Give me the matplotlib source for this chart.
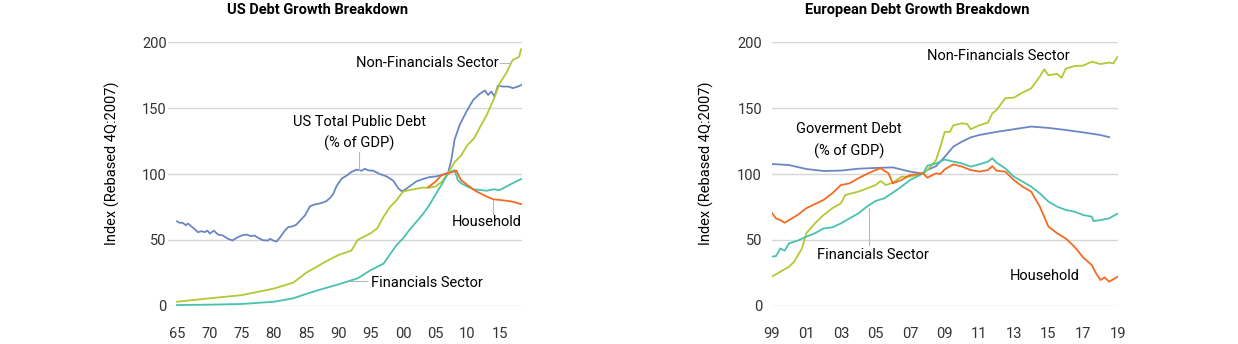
import matplotlib
matplotlib.use("Agg")
import matplotlib.pyplot as plt

plt.rcParams['font.family'] = ['Roboto', 'DejaVu Sans']

BLUE = '#6b87c2'
GREEN = '#b4c833'
TEAL = '#48c2ae'
ORANGE = '#f26b21'
GRID = '#d6d6d6'
LEADER = '#b8b8b8'

# ---- US data (index, rebased 4Q:2007) ----
us_pub_years = [1965, 1965.4, 1965.9, 1966.35, 1966.7, 1967.5, 1968.25, 1968.8, 1969.3, 1969.7,
                1970.1, 1970.7, 1971.35, 1972.1, 1972.9, 1973.6, 1974.2, 1975.0, 1975.75, 1976.5,
                1977.0, 1977.55, 1978.3, 1979.1, 1979.4, 1979.9, 1980.4, 1980.9, 1981.7, 1982.2,
                1983.0, 1983.5, 1984.2, 1984.8, 1985.6, 1986.3, 1987.4, 1988.1, 1988.7, 1989.2,
                1989.7, 1990.5, 1991.25, 1992.0, 1992.8, 1993.6, 1994.1, 1994.6, 1995.4, 1996.4,
                1997.45, 1998.5, 1999.25, 1999.8, 2000.3, 2001.05, 2002.1, 2003.1, 2004.15,
                2005.2, 2006.2, 2007.0, 2007.5, 2008.0, 2008.8, 2009.85, 2010.9, 2011.9, 2012.7,
                2013.2, 2013.7, 2014.2, 2014.7, 2015.5, 2016.3, 2017.05, 2017.8, 2018.4]
us_pub = [64.1, 62.9, 62.9, 61.1, 62.4, 59.1, 55.8, 56.6, 55.8, 57,
          54.8, 57, 54, 53.3, 50.8, 49.5, 51.5, 53.3, 54, 52.8,
          53.3, 51.5, 49.7, 49.5, 50.8, 49.5, 48.7, 51.5, 57, 59.6,
          60.4, 61.6, 65.4, 68.4, 75.5, 76.8, 78, 79.3, 81.8, 84.8,
          90.7, 96.5, 98.7, 101.5, 103.3, 102.5, 104, 102.8, 102.5, 100,
          98.2, 95, 89.4, 86.9, 88, 90.7, 94.4, 96.2, 97.7,
          98.2, 99.5, 101, 110.9, 126, 137.4, 147.5, 156.3, 160.9, 163.4,
          160, 162.6, 158.8, 167, 166.4, 166.4, 165.2, 166.4, 167.7]

us_nf_years = [1965, 1970, 1975, 1980, 1983, 1985, 1988, 1990, 1992, 1993, 1995, 1996, 1997,
               1998, 1999, 2000, 2001, 2003, 2004, 2005, 2006, 2007, 2008, 2009, 2010, 2011,
               2012, 2013, 2014, 2015, 2016, 2017, 2018, 2018.3]
us_nf = [3, 5.6, 8, 13, 17.5, 25, 33.4, 38.5, 41.8, 50, 55, 58.7, 67.6,
         75, 80, 86.6, 87.8, 89.6, 89.6, 90.4, 94, 100.5, 109, 114, 122, 127,
         136, 145, 156, 169, 176.5, 186.6, 189, 194.7]

us_fin_years = [1965, 1970, 1975, 1980, 1983, 1985, 1987, 1990, 1993, 1995, 1997, 1999, 2000,
                2001, 2003, 2004, 2005, 2006, 2007, 2008, 2008.5, 2009, 2010, 2011, 2012, 2013,
                2014, 2015, 2016, 2017, 2018.3]
us_fin = [0.5, 0.8, 1.3, 3, 5.6, 8.9, 12, 16.2, 20.8, 27, 32, 46, 51,
          57.5, 69, 75.7, 84, 92, 100.5, 103, 95.4, 93, 90.4, 88.4, 87.8, 87.3,
          88.4, 87.8, 90.4, 93, 96.2]

us_hh_years = [2003.9, 2005, 2006, 2007, 2008.3, 2008.6, 2009, 2010, 2011, 2012, 2013, 2014,
               2015, 2016, 2017, 2018, 2018.3]
us_hh = [89.9, 94, 99.2, 100.5, 102.5, 99.2, 95.4, 91.6, 87.8, 85.3, 82.8, 80.8,
         80.3, 79.7, 79, 77.6, 77.2]

us_ticks = [1965, 1970, 1975, 1980, 1985, 1990, 1995, 2000, 2005, 2010, 2015]
us_labels = ['65', '70', '75', '80', '85', '90', '95', '00', '05', '10', '15']

# ---- European data ----
eu_gov_years = [1999, 2000, 2001, 2002, 2003, 2004, 2005, 2006, 2007, 2007.75, 2008, 2008.5,
                2009, 2009.5, 2010, 2010.5, 2011, 2012, 2013, 2014, 2015, 2016, 2017, 2018, 2018.5]
eu_gov = [107.6, 106.8, 103.8, 102.3, 102.6, 104, 104.6, 105, 101.8, 100.3, 103, 106,
          113, 120.8, 124.6, 127.8, 129.6, 132, 134, 136, 135, 133.4, 131.6, 129.6, 128]

eu_nf_years = [1999, 2000, 2000.3, 2000.75, 2001, 2001.5, 2002, 2002.5, 2003, 2003.25, 2004,
               2004.5, 2005, 2005.3, 2005.6, 2006, 2006.5, 2007, 2007.75, 2008, 2008.5, 2008.75,
               2009, 2009.3, 2009.5, 2010, 2010.3, 2010.5, 2011, 2011.5, 2011.75, 2012, 2012.5,
               2013, 2013.5, 2014, 2014.5, 2014.75, 2015, 2015.5, 2015.75, 2016, 2016.5, 2017,
               2017.5, 2018, 2018.5, 2018.75, 2019]
eu_nf = [22, 29.6, 33.4, 43.5, 55, 62.5, 68.9, 74, 77.7, 84, 86.6,
         89, 91.6, 94.7, 91.6, 93.4, 98, 98, 100.5, 103, 110.6, 120.8,
         132, 132, 137, 138.5, 138, 134, 137, 139, 146, 148.6, 157.5,
         158, 161.8, 165, 174, 179.5, 175, 176, 173, 180, 182, 182.3,
         185.3, 183.5, 184.6, 184, 189]

eu_fin_years = [1999, 1999.25, 1999.5, 1999.75, 2000, 2000.5, 2001, 2001.5, 2002, 2002.5, 2003,
                2003.5, 2004, 2004.5, 2005, 2005.5, 2006, 2006.5, 2007, 2007.75, 2008, 2008.5,
                2009, 2009.5, 2010, 2010.5, 2011, 2011.5, 2011.75, 2012, 2012.5, 2013, 2013.5,
                2014, 2014.5, 2015, 2015.5, 2016, 2016.5, 2017, 2017.5, 2017.6, 2018, 2018.5, 2019]
eu_fin = [37.2, 37.7, 43.5, 41.8, 47.3, 49.4, 52.4, 55, 58.7, 59.5, 62.5,
          66.3, 70, 75.2, 79.5, 81.5, 85.8, 90.4, 95.4, 100.5, 106.3, 108,
          111, 109.4, 108, 105.6, 107.3, 109.4, 112, 108.6, 104.3, 98, 94.2,
          90.4, 85.3, 79, 75.2, 72.7, 71.4, 68.9, 67.6, 64.3, 65, 66.3, 70]

eu_hh_years = [1999, 1999.25, 1999.5, 1999.75, 2000, 2000.5, 2001, 2001.5, 2002, 2002.5, 2003,
               2003.5, 2004, 2004.5, 2005, 2005.3, 2005.75, 2006, 2006.5, 2007, 2007.75, 2008,
               2008.5, 2008.75, 2009, 2009.5, 2010, 2010.5, 2011, 2011.5, 2011.75, 2012, 2012.5,
               2013, 2013.5, 2014, 2014.5, 2015, 2015.5, 2016, 2016.5, 2017, 2017.5, 2017.75,
               2018, 2018.25, 2018.5, 2019]
eu_hh = [70.6, 66.3, 65, 63, 65, 68.9, 74, 77.2, 80.3, 85.3, 91.6,
         92.9, 96.7, 100, 103, 104.3, 100.5, 92.9, 95.4, 99.2, 100.5, 97.2,
         100.5, 100, 103.5, 107.3, 105.6, 103, 101.8, 103, 106, 102.5, 101.8,
         95.4, 90.4, 86.6, 75.2, 60, 55, 51, 44.8, 36.7, 30.9, 24.6,
         19.5, 21.5, 18.2, 22]

eu_ticks = [1999, 2001, 2003, 2005, 2007, 2009, 2011, 2013, 2015, 2017, 2019]
eu_labels = ['99', '01', '03', '05', '07', '09', '11', '13', '15', '17', '19']

y_ticks = [0, 50, 100, 150, 200]

W, H = 1238, 344
fig = plt.figure(figsize=(W / 100, H / 100), dpi=100)

bottom = (H - 305.7) / H
height = 263.4 / H
ax1 = fig.add_axes([168 / W, bottom, (521.7 - 168) / W, height])
ax2 = fig.add_axes([771.7 / W, bottom, (1117.7 - 771.7) / W, height])


def style(ax, ticks, labels, xlim, ypad):
    ax.set_xlim(*xlim)
    ax.set_ylim(0, 200)
    ax.set_yticks(y_ticks)
    ax.set_xticks(ticks)
    ax.set_xticklabels(labels)
    for s in ax.spines.values():
        s.set_visible(False)
    ax.grid(axis='y', color=GRID, lw=1)
    ax.set_axisbelow(True)
    ax.tick_params(length=0, labelsize=10.5, colors='#333333')
    ax.tick_params(axis='x', pad=15)
    ax.tick_params(axis='y', pad=ypad)


lw = 1.3
ax1.plot(us_pub_years, us_pub, color=BLUE, lw=lw)
ax1.plot(us_nf_years, us_nf, color=GREEN, lw=lw)
ax1.plot(us_fin_years, us_fin, color=TEAL, lw=lw, clip_on=False)
ax1.plot(us_hh_years, us_hh, color=ORANGE, lw=lw)
style(ax1, us_ticks, us_labels, (1963.6, 2018.4), 1)

fs = 10.5
ax1.text(2014.9, 184, 'Non-Financials Sector', ha='right', va='center', fontsize=fs)
ax1.plot([2015.0, 2016.6], [184, 184], color=LEADER, lw=0.8)
ax1.text(1993.2, 131, 'US Total Public Debt\n(% of GDP)', ha='center', va='center',
         fontsize=fs, linespacing=1.6)
ax1.plot([1993.2, 1993.2], [117, 103], color=LEADER, lw=0.8)
ax1.text(2018.4, 63.8, 'Household', ha='right', va='center', fontsize=fs)
ax1.plot([2013.9, 2013.9], [80, 70], color=LEADER, lw=0.8)
ax1.text(1995.0, 17, 'Financials Sector', ha='left', va='center', fontsize=fs)
ax1.plot([1991.8, 1994.4], [18.5, 18.5], color=LEADER, lw=0.8)

ax2.plot(eu_gov_years, eu_gov, color=BLUE, lw=lw)
ax2.plot(eu_nf_years, eu_nf, color=GREEN, lw=lw)
ax2.plot(eu_fin_years, eu_fin, color=TEAL, lw=lw)
ax2.plot(eu_hh_years, eu_hh, color=ORANGE, lw=lw)
style(ax2, eu_ticks, eu_labels, (1999, 2019), 7)

ax2.text(2012.1, 189.6, 'Non-Financials Sector', ha='center', va='center', fontsize=fs)
ax2.text(2003.47, 125.4, 'Goverment Debt\n(% of GDP)', ha='center', va='center',
         fontsize=fs, linespacing=1.6)
ax2.text(2004.88, 38.5, 'Financials Sector', ha='center', va='center', fontsize=fs)
ax2.plot([2004.63, 2004.63], [74, 46], color=LEADER, lw=0.8)
ax2.text(2014.8, 22.8, 'Household', ha='center', va='center', fontsize=fs)

fig.text(318 / W, 1 - 10 / H, 'US Debt Growth Breakdown', ha='center', va='center',
         fontsize=10.5, fontweight='bold')
fig.text(917 / W, 1 - 10 / H, 'European Debt Growth Breakdown', ha='center', va='center',
         fontsize=10.5, fontweight='bold')
fig.text(112 / W, 1 - 163.5 / H, 'Index (Rebased 4Q:2007)', rotation=90, ha='center',
         va='center', fontsize=10.5)
fig.text(706.7 / W, 1 - 163.5 / H, 'Index (Rebased 4Q:2007)', rotation=90, ha='center',
         va='center', fontsize=10.5)

fig.savefig('out.png', dpi=100, facecolor='white')
